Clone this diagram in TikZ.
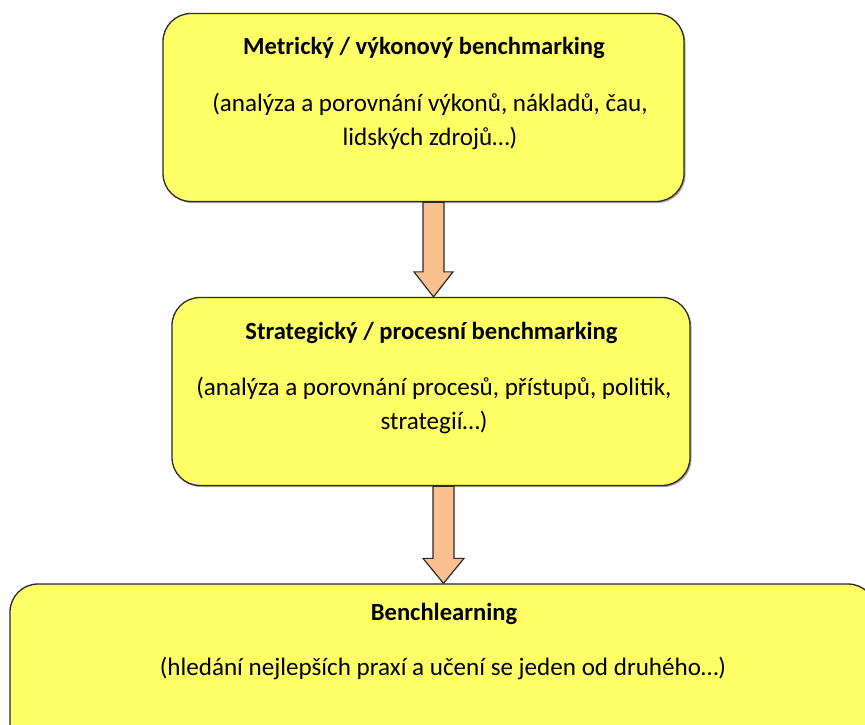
\documentclass[tikz,border=0pt]{standalone}
\usepackage{fontspec}
\setmainfont{Carlito}
\usetikzlibrary{calc,shadows}
\definecolor{boxyellow}{HTML}{FFFF66}
\definecolor{arrowpeach}{HTML}{FAC090}
\definecolor{edgegray}{HTML}{2A2A2A}
\tikzset{
  levelbox/.style={draw=edgegray, line width=1.3pt, fill=boxyellow, rounded corners=28pt,
    inner sep=0pt, drop shadow={shadow xshift=1.5pt, shadow yshift=-1.5pt, opacity=0.35, fill=black}},
  titletext/.style={font=\fontsize{24.6}{34}\selectfont\bfseries, inner sep=0pt},
  desctext/.style={font=\fontsize{25.1}{34}\selectfont, align=center, inner sep=0pt},
  blockarrow/.style={draw=edgegray, line width=1.2pt, fill=arrowpeach, line join=miter}
}
\begin{document}
\begin{tikzpicture}[x=1pt,y=-1pt]
\useasboundingbox (0,0) rectangle (865,724);
\clip (0,0) rectangle (865,724);
% boxes
\node[levelbox, minimum width=521pt, minimum height=188pt] (b1) at (423.5,107.5) {};
\node[levelbox, minimum width=518pt, minimum height=188pt] (b2) at (431,391.5) {};
\node[levelbox, minimum width=866pt, minimum height=188pt] (b3) at (443,678) {};
% texts
\node[titletext] (t1) at (424,48) {Metrický / výkonový benchmarking};
\node[desctext] (d1) at (430,121) {(analýza a porovnání výkonů, nákladů, čau,\\lidských zdrojů…)};
\node[titletext] (t2) at (431.5,333) {Strategický / procesní benchmarking};
\node[desctext] (d2) at (434,405) {(analýza a porovnání procesů, přístupů, politik,\\strategií…)};
\node[titletext] (t3) at (444,614) {Benchlearning};
\node[desctext] (d3) at (443,668) {(hledání nejlepších praxí a učení se jeden od druhého…)};
% arrows
\coordinate (a1top) at (433.5,0 |- b1.south);
\coordinate (a1tip) at (433.5,0 |- b2.north);
\coordinate (a2top) at (443.5,0 |- b2.south);
\coordinate (a2tip) at (443.5,0 |- b3.north);
\draw[blockarrow] ($(a1top)+(-10.5,0)$) -- ($(a1tip)+(-10.5,-25)$) -- ($(a1tip)+(-19.5,-25)$)
  -- (a1tip) -- ($(a1tip)+(19.5,-25)$) -- ($(a1tip)+(10.5,-25)$) -- ($(a1top)+(10.5,0)$) -- cycle;
\draw[blockarrow] ($(a2top)+(-10.5,0)$) -- ($(a2tip)+(-10.5,-25)$) -- ($(a2tip)+(-20.5,-25)$)
  -- (a2tip) -- ($(a2tip)+(20.5,-25)$) -- ($(a2tip)+(10.5,-25)$) -- ($(a2top)+(10.5,0)$) -- cycle;
\end{tikzpicture}
\end{document}
